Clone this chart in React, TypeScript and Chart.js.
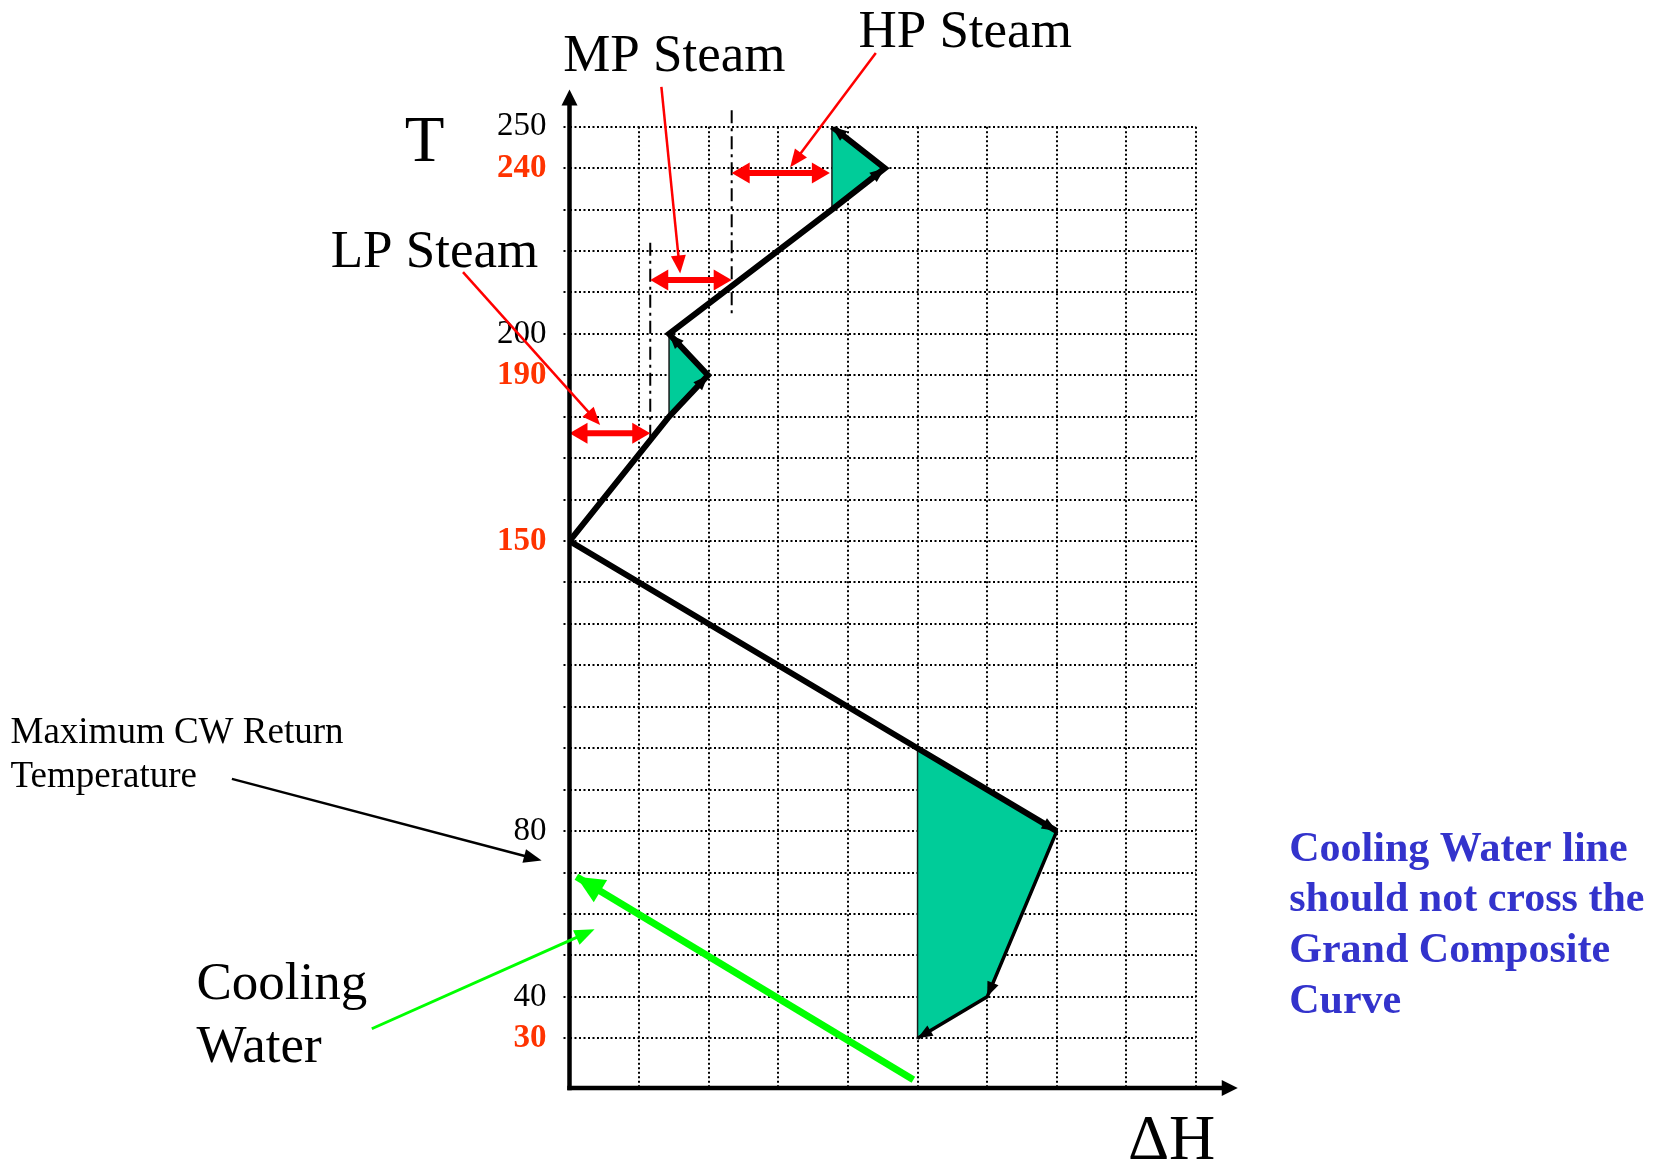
import React, { useEffect, useRef } from 'react';
import { Chart, registerables } from 'chart.js';

Chart.register(...registerables);

// ---------- DATA (ΔH in grid units, T in °C) ----------
const gccDH = [3.77, 4.53, 3.77, 1.43, 1.99, 1.43, 0, 5, 7, 6, 5];
const gccT = [250, 240, 230, 200, 190, 180, 150, 100, 80, 40, 30];

const hpPocketDH = [3.77, 4.53, 3.77, 3.77];
const hpPocketT = [250, 240, 230, 250];
const midPocketDH = [1.43, 1.99, 1.43, 1.43];
const midPocketT = [200, 190, 180, 200];
const lowPocketDH = [5, 7, 6, 5, 5];
const lowPocketT = [100, 80, 40, 30, 100];

const cwLineDH = [4.94, 0.1];
const cwLineT = [20, 69];

const steamNames = ['LP Steam', 'MP Steam', 'HP Steam'];
const steamT = [176, 213, 238.8];
const steamFromDH = [0, 1.16, 2.33];
const steamToDH = [1.16, 2.33, 3.74];

const boundaryDH = [1.16, 2.33];
const boundaryTopT = [222, 254];
const boundaryBottomT = [174, 204];

const yTickValues = [30, 40, 50, 60, 70, 80, 90, 100, 110, 120, 130, 140, 150, 160, 170, 180, 190, 200, 210, 220, 230, 240, 250];
const yLabelled = [250, 240, 200, 190, 150, 80, 40, 30];
const yHighlighted = [240, 190, 150, 30];
const xTickValues = [0, 1, 2, 3, 4, 5, 6, 7, 8, 9];

// arrowheads along the GCC: [from index, to index]
const gccArrowPairs = [[2, 1], [1, 0], [5, 4], [4, 3], [6, 8], [8, 9], [9, 10]];

// ---------- ANNOTATIONS (positions in data units) ----------
const SERIF = '"Liberation Serif", "Times New Roman", serif';
const labelArrows = [
  { from: [4.4, 267.8], to: [3.17, 240.2], color: '#FF0000', lw: 2.5, head: [18, 15] },
  { from: [1.32, 259.6], to: [1.59, 214.6], color: '#FF0000', lw: 2.5, head: [18, 15] },
  { from: [-1.53, 214.9], to: [0.44, 178], color: '#FF0000', lw: 2.5, head: [18, 15] },
  { from: [-4.85, 92.6], to: [-0.4, 72.9], color: '#000000', lw: 2.5, head: [18, 14] },
  { from: [-2.84, 32.3], to: [0.36, 56.3], color: '#00FF00', lw: 3, head: [20, 16] },
];
const texts = [
  { t: 'HP Steam', at: [4.15, 269.3], size: 53, weight: 'normal', color: '#000', align: 'left' },
  { t: 'MP Steam', at: [-0.09, 263.5], size: 53, weight: 'normal', color: '#000', align: 'left' },
  { t: 'LP Steam', at: [-3.43, 216.2], size: 53, weight: 'normal', color: '#000', align: 'left' },
  { t: 'T', at: [-2.08, 241.7], size: 65, weight: 'normal', color: '#000', align: 'center' },
  { t: 'ΔH', at: [8.65, 0.95], size: 64, weight: 'normal', color: '#000', align: 'center' },
  { t: 'Maximum CW Return', at: [-8.03, 101.2], size: 37, weight: 'normal', color: '#000', align: 'left' },
  { t: 'Temperature', at: [-8.03, 90.6], size: 37, weight: 'normal', color: '#000', align: 'left' },
  { t: 'Cooling', at: [-5.36, 39.4], size: 53, weight: 'normal', color: '#000', align: 'left' },
  { t: 'Water', at: [-5.36, 24.2], size: 53, weight: 'normal', color: '#000', align: 'left' },
  { t: 'Cooling Water line', at: [10.34, 72.8], size: 42, weight: 'bold', color: '#3333CC', align: 'left' },
  { t: 'should not cross the', at: [10.34, 60.8], size: 42, weight: 'bold', color: '#3333CC', align: 'left' },
  { t: 'Grand Composite', at: [10.34, 48.4], size: 42, weight: 'bold', color: '#3333CC', align: 'left' },
  { t: 'Curve', at: [10.34, 36.0], size: 42, weight: 'bold', color: '#3333CC', align: 'left' },
];
const Y_MIN = 18;
const Y_MAX = 250;
const Y_AXIS_TIP = 259;
const X_MAX = 9;
const X_AXIS_TIP = 9.6;

const pts = (xs: number[], ys: number[]) => xs.map((x, i) => ({ x, y: ys[i] }));

function head(ctx: CanvasRenderingContext2D, x: number, y: number, a: number, len: number, w: number) {
  const c = Math.cos(a), s = Math.sin(a);
  ctx.beginPath();
  ctx.moveTo(x, y);
  ctx.lineTo(x - c * len - s * w / 2, y - s * len + c * w / 2);
  ctx.lineTo(x - c * len + s * w / 2, y - s * len - c * w / 2);
  ctx.closePath();
  ctx.fill();
}

function arrowLine(ctx: CanvasRenderingContext2D, x0: number, y0: number, x1: number, y1: number,
  color: string, lw: number, len: number, w: number, both = false) {
  const a = Math.atan2(y1 - y0, x1 - x0);
  const c = Math.cos(a), s = Math.sin(a);
  ctx.save();
  ctx.strokeStyle = color;
  ctx.fillStyle = color;
  ctx.lineWidth = lw;
  ctx.setLineDash([]);
  ctx.lineCap = 'butt';
  ctx.beginPath();
  const k = len * 0.7;
  ctx.moveTo(both ? x0 + c * k : x0, both ? y0 + s * k : y0);
  ctx.lineTo(x1 - c * k, y1 - s * k);
  ctx.stroke();
  head(ctx, x1, y1, a, len, w);
  if (both) head(ctx, x0, y0, a + Math.PI, len, w);
  ctx.restore();
}

const overlay = {
  id: 'overlay',
  afterDatasetsDraw(chart: any) {
    const ctx: CanvasRenderingContext2D = chart.ctx;
    const X = (v: number) => chart.scales.x.getPixelForValue(v);
    const Y = (v: number) => chart.scales.y.getPixelForValue(v);

    // dash-dot utility boundaries
    ctx.save();
    ctx.strokeStyle = '#000';
    ctx.lineWidth = 2;
    ctx.setLineDash([13, 5, 3, 5]);
    boundaryDH.forEach((dh, i) => {
      ctx.beginPath();
      ctx.moveTo(X(dh), Y(boundaryTopT[i]));
      ctx.lineTo(X(dh), Y(boundaryBottomT[i]));
      ctx.stroke();
    });
    ctx.restore();

    // steam level double arrows
    steamNames.forEach((_, i) => {
      arrowLine(ctx, X(steamFromDH[i]), Y(steamT[i]), X(steamToDH[i]), Y(steamT[i]), '#FF0000', 6, 18, 21, true);
    });

    // GCC arrowheads
    ctx.save();
    ctx.fillStyle = '#000';
    gccArrowPairs.forEach(([f, t]) => {
      const x0 = X(gccDH[f]), y0 = Y(gccT[f]), x1 = X(gccDH[t]), y1 = Y(gccT[t]);
      head(ctx, x1, y1, Math.atan2(y1 - y0, x1 - x0), 15, 12);
    });
    ctx.restore();

    // cooling water arrowhead
    {
      const x0 = X(cwLineDH[0]), y0 = Y(cwLineT[0]), x1 = X(cwLineDH[1]), y1 = Y(cwLineT[1]);
      ctx.save();
      ctx.fillStyle = '#00FF00';
      head(ctx, x1, y1, Math.atan2(y1 - y0, x1 - x0), 28, 26);
      ctx.restore();
    }

    // axes with arrowheads
    ctx.save();
    ctx.strokeStyle = '#000';
    ctx.fillStyle = '#000';
    ctx.lineWidth = 4.5;
    ctx.setLineDash([]);
    ctx.beginPath();
    ctx.moveTo(X(0), Y(Y_MIN) + 2.2);
    ctx.lineTo(X(0), Y(Y_AXIS_TIP) + 12);
    ctx.stroke();
    head(ctx, X(0), Y(Y_AXIS_TIP), -Math.PI / 2, 16, 16);
    ctx.beginPath();
    ctx.moveTo(X(0) - 2.2, Y(Y_MIN));
    ctx.lineTo(X(X_AXIS_TIP) - 12, Y(Y_MIN));
    ctx.stroke();
    head(ctx, X(X_AXIS_TIP), Y(Y_MIN), 0, 16, 16);
    ctx.restore();

    // label arrows
    labelArrows.forEach((a) => {
      arrowLine(ctx, X(a.from[0]), Y(a.from[1]), X(a.to[0]), Y(a.to[1]), a.color, a.lw, a.head[0], a.head[1]);
    });

    // texts
    ctx.save();
    ctx.textBaseline = 'alphabetic';
    texts.forEach((tx) => {
      ctx.font = `${tx.weight} ${tx.size}px ${SERIF}`;
      ctx.fillStyle = tx.color;
      ctx.textAlign = tx.align as CanvasTextAlign;
      ctx.fillText(tx.t, X(tx.at[0]), Y(tx.at[1]));
    });
    ctx.restore();
  },
};

export default function App() {
  const ref = useRef<HTMLCanvasElement>(null);
  useEffect(() => {
    document.body.style.margin = '0';
    const pocketStyle = {
      showLine: true,
      fill: 'shape',
      backgroundColor: '#00CC99',
      borderColor: '#1a1a1a',
      borderWidth: 1.5,
      pointRadius: 0,
      order: 3,
    };
    const chart = new Chart(ref.current as HTMLCanvasElement, {
      type: 'scatter',
      data: {
        datasets: [
          {
            label: 'Grand Composite Curve',
            data: pts(gccDH, gccT),
            showLine: true,
            borderColor: '#000',
            borderWidth: 6,
            borderJoinStyle: 'miter',
            pointRadius: 0,
            fill: false,
            segment: { borderWidth: (c: any) => (c.p0DataIndex >= 8 ? 3.5 : 6) },
            order: 0,
          } as any,
          {
            label: 'Cooling Water',
            data: pts(cwLineDH, cwLineT),
            showLine: true,
            borderColor: '#00FF00',
            borderWidth: 7,
            pointRadius: 0,
            fill: false,
            order: 1,
          } as any,
          { label: 'HP pocket', data: pts(hpPocketDH, hpPocketT), ...pocketStyle } as any,
          { label: 'Mid pocket', data: pts(midPocketDH, midPocketT), ...pocketStyle } as any,
          { label: 'Low pocket', data: pts(lowPocketDH, lowPocketT), ...pocketStyle } as any,
        ],
      },
      options: {
        responsive: false,
        animation: false,
        devicePixelRatio: 1,
        layout: { padding: { top: 126.7, right: 469, bottom: 0, left: 0 } },
        plugins: { legend: { display: false }, tooltip: { enabled: false } },
        scales: {
          x: {
            type: 'linear',
            min: 0,
            max: X_MAX,
            afterBuildTicks: (s: any) => { s.ticks = xTickValues.map((v) => ({ value: v })); },
            afterFit: (s: any) => { s.height = 72; },
            ticks: { display: false },
            grid: { color: '#000', lineWidth: 2, drawTicks: false },
            border: { display: false, dash: [2, 2.5] },
          },
          y: {
            type: 'linear',
            min: Y_MIN,
            max: Y_MAX,
            afterBuildTicks: (s: any) => { s.ticks = yTickValues.map((v) => ({ value: v })); },
            afterFit: (s: any) => { s.width = 569.5; },
            ticks: {
              autoSkip: false,
              padding: 17,
              callback: (v: any) => (yLabelled.includes(Number(v)) ? String(v) : ''),
              color: (c: any) => (yHighlighted.includes(c.tick?.value) ? '#FF3300' : '#000'),
              font: (c: any) => ({
                family: SERIF,
                size: 33,
                weight: yHighlighted.includes(c.tick?.value) ? 'bold' : 'normal',
              }),
            },
            grid: { color: '#000', lineWidth: 2, tickLength: 6, tickBorderDash: [2, 2.5] },
            border: { display: false, dash: [2, 2.5] },
          },
        },
      } as any,
      plugins: [overlay],
    });
    return () => chart.destroy();
  }, []);
  return (
    <div style={{ width: 1665, height: 1160 }}>
      <canvas ref={ref} width={1665} height={1160} style={{ display: 'block' }} />
    </div>
  );
}
